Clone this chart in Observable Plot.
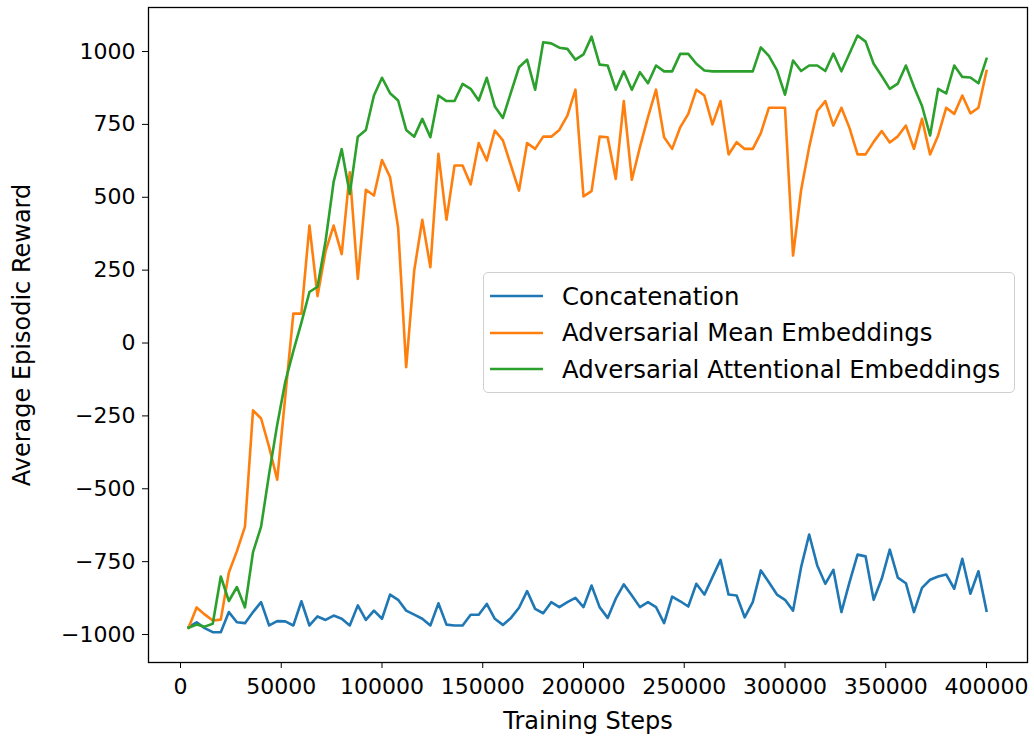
<!DOCTYPE html>
<html>
<head>
<meta charset="utf-8">
<script src="https://cdn.jsdelivr.net/npm/d3@7"></script>
<script src="https://cdn.jsdelivr.net/npm/@observablehq/plot@0.6"></script>
<style>
  html, body { margin: 0; padding: 0; background: #fff; }
  #wrap { position: relative; width: 1034px; height: 738px; font-family: "DejaVu Sans", sans-serif; }
  #legend { position: absolute; left: 483px; top: 272px; width: 532px; height: 121px;
    border: 1px solid #d0d0d0; border-radius: 5px; background: rgba(255,255,255,0.85);
    box-sizing: border-box; font-size: 24.4px; color: #000; }
  .item { position: absolute; left: 6px; height: 30px; display: flex; align-items: center; white-space: nowrap; }
  .item svg { margin-right: 19px; }
</style>
</head>
<body>
<div id="wrap"><div id="chart"></div><div id="legend"></div></div>
<script>
const seriesNames = ["Concatenation", "Adversarial Mean Embeddings", "Adversarial Attentional Embeddings"];
const seriesColors = ["#1f77b4", "#ff7f0e", "#2ca02c"];

// Training steps: 100 evaluations, every 4000 steps
const steps = d3.range(1, 101).map(k => k * 4000);

const concatenation = [
  -975,-958,-978,-992,-992,-923,-958,-961,-923,-889,
  -969,-954,-955,-969,-886,-969,-938,-950,-935,-946,
  -969,-900,-950,-918,-946,-863,-881,-918,-932,-946,
  -969,-893,-966,-969,-969,-932,-932,-895,-946,-967,
  -943,-908,-851,-912,-927,-889,-906,-889,-874,-906,
  -832,-906,-943,-877,-828,-866,-906,-889,-906,-961,
  -870,-886,-904,-826,-863,-803,-744,-863,-866,-941,
  -889,-780,-821,-863,-881,-918,-769,-657,-763,-826,
  -778,-923,-821,-726,-732,-881,-809,-709,-805,-824,
  -923,-840,-812,-801,-794,-843,-740,-860,-783,-918
];

const meanEmbeddings = [
  -977,-907,-931,-952,-949,-787,-714,-630,-231,-259,
  -357,-469,-183,101,101,403,161,315,403,305,
  586,220,526,506,628,569,397,-83,249,423,
  260,649,423,609,609,544,686,626,729,695,
  609,523,686,666,708,708,731,780,869,503,
  521,708,706,563,830,560,672,775,869,706,
  666,740,786,869,849,750,830,647,689,666,
  666,720,807,807,807,300,525,672,796,830,
  746,807,738,647,647,690,727,688,709,746,
  666,769,647,712,807,786,849,788,807,933
];

const attentionalEmbeddings = [
  -977,-966,-973,-963,-801,-885,-837,-907,-717,-630,
  -448,-280,-133,-28,70,175,193,350,553,665,
  511,708,731,849,910,857,832,731,708,769,
  706,849,830,830,889,872,832,910,811,772,
  860,946,972,869,1032,1028,1013,1009,972,990,
  1051,955,952,869,932,869,929,891,952,932,
  932,992,992,958,935,932,932,932,932,932,
  932,1014,985,936,852,969,933,952,952,933,
  993,932,993,1055,1034,958,916,872,890,952,
  879,813,712,872,856,952,913,911,891,975
];

const xTicks = [0, 50000, 100000, 150000, 200000, 250000, 300000, 350000, 400000];
const yTicks = [-1000, -750, -500, -250, 0, 250, 500, 750, 1000];

const seriesValues = [concatenation, meanEmbeddings, attentionalEmbeddings];
const rows = [];
seriesNames.forEach((name, s) => {
  steps.forEach((x, i) => rows.push({series: name, step: x, value: seriesValues[s][i]}));
});

const fmt = v => String(v).replace("-", "\u2212");

const chart = Plot.plot({
  width: 1034,
  height: 738,
  marginLeft: 148,
  marginRight: 7,
  marginTop: 7,
  marginBottom: 76,
  style: {fontFamily: "DejaVu Sans, sans-serif", fontSize: "22px", color: "#000", background: "#fff"},
  x: {domain: [-15880, 420350], label: null},
  y: {domain: [-1096, 1151], label: null},
  color: {domain: seriesNames, range: seriesColors},
  marks: [
    Plot.line(rows, {x: "step", y: "value", z: "series", stroke: "series", strokeWidth: 2.6, strokeLinejoin: "round", strokeLinecap: "square"}),
    Plot.frame({stroke: "#000", strokeWidth: 1.3}),
    Plot.axisX({ticks: xTicks, tickFormat: fmt, tickSize: 6, tickPadding: 10, label: null, fontSize: 22}),
    Plot.axisY({ticks: yTicks, tickFormat: fmt, tickSize: 6, tickPadding: 7, label: null, fontSize: 22}),
    Plot.text(["Training Steps"], {frameAnchor: "bottom", dy: 66, fontSize: 24, fill: "#000"}),
    Plot.text(["Average Episodic Reward"], {frameAnchor: "left", textAnchor: "middle", dx: -126, rotate: -90, fontSize: 24, fill: "#000"})
  ]
});
document.getElementById("chart").appendChild(chart);

const legend = document.getElementById("legend");
seriesNames.forEach((name, i) => {
  const item = document.createElement("div");
  item.className = "item";
  item.style.top = (8 + i * 36.5) + "px";
  item.innerHTML = `<svg width="53" height="10"><line x1="0" y1="5" x2="53" y2="5" stroke="${seriesColors[i]}" stroke-width="2.6"/></svg><span>${name}</span>`;
  legend.appendChild(item);
});
</script>
</body>
</html>
